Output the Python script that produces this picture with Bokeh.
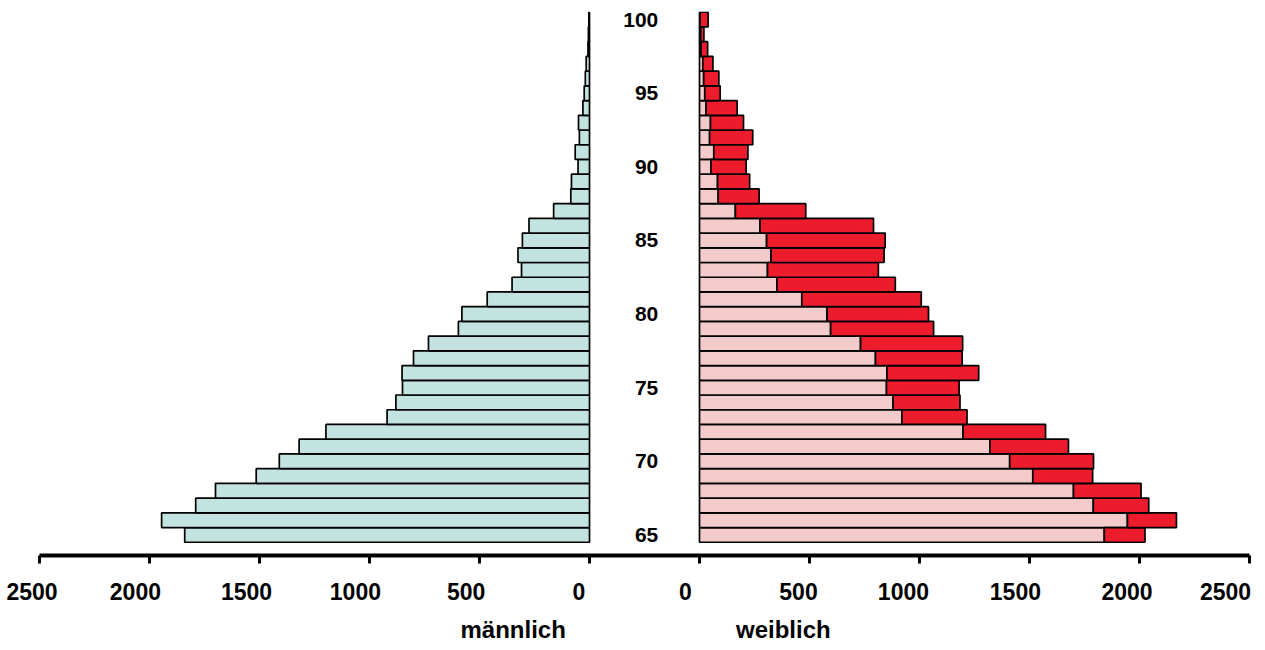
from bokeh.plotting import figure
from bokeh.models import ColumnDataSource, FixedTicker, LinearAxis, Range1d
from bokeh.core.properties import value
from bokeh.embed import file_html
from bokeh.resources import INLINE

# ---------------- data ----------------
ages = list(range(65, 101))
male = [1840, 1945, 1790, 1700, 1515, 1410, 1320, 1198, 920, 880,
        850, 852, 800, 732, 596, 580, 465, 352, 309, 325,
        305, 275, 163, 85, 82, 52, 65, 46, 50, 30,
        24, 19, 15, 7, 5, 3]
female = [2025, 2168, 2042, 2007, 1787, 1791, 1677, 1573, 1216, 1184,
          1180, 1269, 1194, 1196, 1064, 1041, 1008, 890, 813, 839,
          844, 791, 483, 271, 228, 212, 220, 242, 200, 171,
          94, 88, 61, 37, 20, 39]
age_labels = [65, 70, 75, 80, 85, 90, 95, 100]
axis_values = [2500, 2000, 1500, 1000, 500, 0]
titles = ["männlich", "weiblich"]

# ---------------- layout constants ----------------
HALF = 250                      # half of the central gap, in data units
PAD = 50                        # extra room beyond the outer ticks
PX = 0.22                       # pixels per data unit
XMAX = 2500 + HALF + PAD
FRAME_W = int(round(2 * XMAX * PX))
FONT = "Liberation Sans"
MALE_C = "#C3E3E1"
PINK_C = "#F4CBCB"
RED_C = "#EC1C2C"

src_m = ColumnDataSource(dict(y=ages,
                              left=[-HALF - m for m in male],
                              right=[-HALF] * len(ages)))
src_fp = ColumnDataSource(dict(y=ages,
                               left=[HALF] * len(ages),
                               right=[HALF + m for m in male]))
src_fr = ColumnDataSource(dict(y=ages,
                               left=[HALF + m for m in male],
                               right=[HALF + f for f in female]))

p = figure(frame_width=FRAME_W, frame_height=544,
           x_range=Range1d(-XMAX, XMAX),
           y_range=Range1d(63.6, 100.55),
           output_backend="svg", toolbar_location=None,
           x_axis_location=None, y_axis_location=None,
           min_border_top=11, min_border_left=28, min_border_right=2,
           min_border_bottom=60, outline_line_color=None,
           background_fill_color="white", border_fill_color="white")
p.xgrid.visible = False
p.ygrid.visible = False

bar_kw = dict(height=1.0, line_color="black", line_width=1.7)
p.hbar(y="y", left="left", right="right", source=src_m, fill_color=MALE_C, **bar_kw)
p.hbar(y="y", left="left", right="right", source=src_fp, fill_color=PINK_C, **bar_kw)
p.hbar(y="y", left="left", right="right", source=src_fr, fill_color=RED_C, **bar_kw)

# age labels in the gap
p.text(x=[62.5] * len(age_labels), y=age_labels, text=[str(a) for a in age_labels],
       text_align="right", text_baseline="middle",
       text_font=value(FONT), text_font_style="bold", text_font_size="21px",
       text_color="black")

# axis with line and tick marks (tick marks as minor ticks, no labels)
tick_vals = [-HALF - v for v in axis_values] + [HALF + v for v in reversed(axis_values)]
axA = LinearAxis(ticker=FixedTicker(ticks=[], minor_ticks=tick_vals),
                 bounds=(-2500 - HALF, 2500 + HALF),
                 axis_line_width=4, axis_line_color="black",
                 major_tick_line_color=None, major_tick_in=0, major_tick_out=8,
                 minor_tick_line_width=3, minor_tick_line_color="black",
                 minor_tick_in=0, minor_tick_out=8,
                 major_label_standoff=0)
p.add_layout(axA, "below")

# axis carrying the numbers (slightly shifted left as in the original)
shift_px = [-7.5, -14, -13, -14, -13.5, -10.5, -14, -11, -16, -14, -12.5, -24]
label_texts = [str(v) for v in axis_values] + [str(v) for v in reversed(axis_values)]
label_pos = [int(round(t + s / PX)) for t, s in zip(tick_vals, shift_px)]
axB = LinearAxis(ticker=FixedTicker(ticks=label_pos),
                 major_label_overrides={pos: txt for pos, txt in zip(label_pos, label_texts)},
                 axis_line_color=None, major_tick_line_color=None,
                 minor_tick_line_color=None, major_tick_in=0, major_tick_out=0,
                 major_label_standoff=19,
                 major_label_text_font=FONT, major_label_text_font_style="bold",
                 major_label_text_font_size="23px", major_label_text_color="black")
p.add_layout(axB, "below")

# axis carrying the two titles
title_pos = [-597, 631]
axC = LinearAxis(ticker=FixedTicker(ticks=title_pos),
                 major_label_overrides={pos: txt for pos, txt in zip(title_pos, titles)},
                 axis_line_color=None, major_tick_line_color=None,
                 minor_tick_line_color=None, major_tick_in=0, major_tick_out=0,
                 major_label_standoff=13,
                 major_label_text_font=FONT, major_label_text_font_style="bold",
                 major_label_text_font_size="24px", major_label_text_color="black")
p.add_layout(axC, "below")

open("out.html", "w").write(file_html(p, INLINE))
